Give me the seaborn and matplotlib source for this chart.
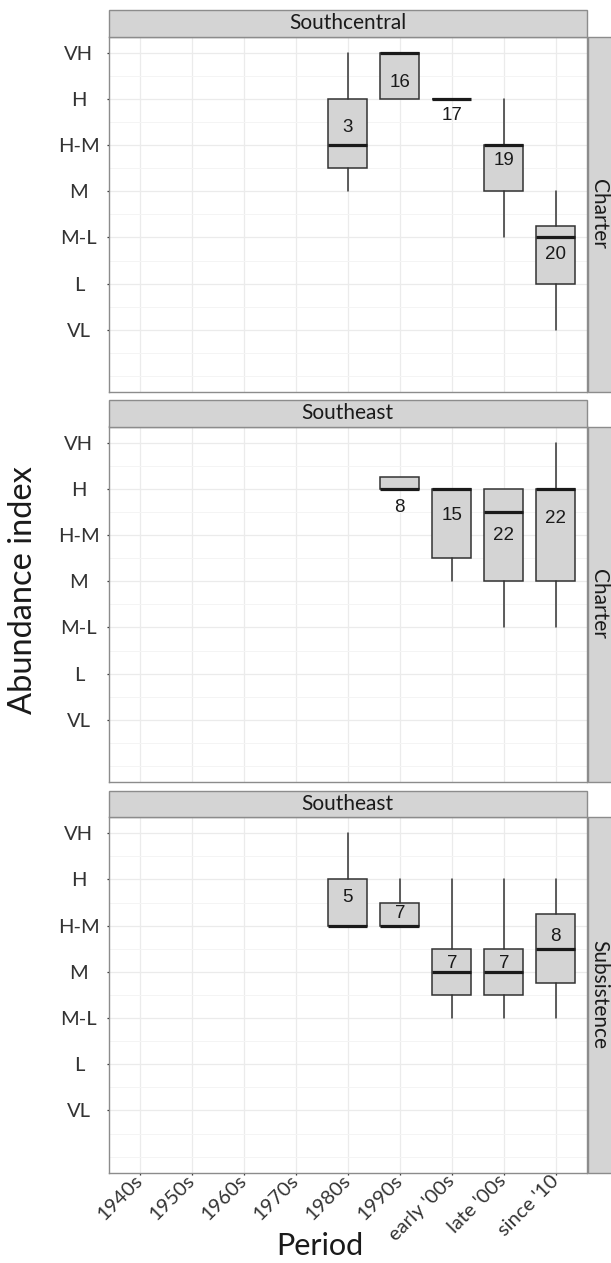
import numpy as np
import pandas as pd
import matplotlib
matplotlib.use("Agg")
import matplotlib.pyplot as plt
from matplotlib.patches import Rectangle
import seaborn as sns

# ---------------- data ----------------
periods = ["1940s", "1950s", "1960s", "1970s", "1980s", "1990s",
           "early '00s", "late '00s", "since '10"]
level_labels = ["VL", "L", "M-L", "M", "H-M", "H", "VH"]
level_values = [1, 2, 3, 4, 5, 6, 7]

panel_titles = ["Southcentral", "Southeast", "Southeast"]
panel_rows = ["Charter", "Charter", "Subsistence"]

# Panel 1: Southcentral / Charter
p1_period = ["1980s", "1990s", "early '00s", "late '00s", "since '10"]
p1_whislo = [4, 6, 6, 3, 1]
p1_q1 = [4.5, 6, 6, 4, 2]
p1_med = [5, 7, 6, 5, 3]
p1_q3 = [6, 7, 6, 5, 3.25]
p1_whishi = [7, 7, 6, 6, 4]
p1_n = [3, 16, 17, 19, 20]
p1_label_y = [5.39, 6.35, 5.63, 4.66, 2.64]

# Panel 2: Southeast / Charter
p2_period = ["1990s", "early '00s", "late '00s", "since '10"]
p2_whislo = [6, 4, 3, 3]
p2_q1 = [6, 4.5, 4, 4]
p2_med = [6, 6, 5.5, 6]
p2_q3 = [6.25, 6, 6, 6]
p2_whishi = [6.25, 6, 6, 7]
p2_n = [8, 15, 22, 22]
p2_label_y = [5.59, 5.42, 5.0, 5.35]

# Panel 3: Southeast / Subsistence
p3_period = ["1980s", "1990s", "early '00s", "late '00s", "since '10"]
p3_whislo = [5, 5, 3, 3, 3]
p3_q1 = [5, 5, 3.5, 3.5, 3.75]
p3_med = [5, 5, 4, 4, 4.5]
p3_q3 = [6, 5.5, 4.5, 4.5, 5.25]
p3_whishi = [7, 6, 6, 6, 6]
p3_n = [5, 7, 7, 7, 8]
p3_label_y = [5.61, 5.26, 4.18, 4.18, 4.77]

panels = [
    (p1_period, p1_whislo, p1_q1, p1_med, p1_q3, p1_whishi, p1_n, p1_label_y),
    (p2_period, p2_whislo, p2_q1, p2_med, p2_q3, p2_whishi, p2_n, p2_label_y),
    (p3_period, p3_whislo, p3_q1, p3_med, p3_q3, p3_whishi, p3_n, p3_label_y),
]

# ---------------- style ----------------
sns.set_theme(style="whitegrid")
plt.rcParams["font.family"] = ["Lato", "DejaVu Sans"]

W, H = 611, 1263
fig = plt.figure(figsize=(W / 100, H / 100), dpi=100)

def fx(px):
    return px / W

def fy(py):
    return 1 - py / H

left_px, right_px = 108.5, 587.0
panel_tops = [36.5, 426.5, 817.1]
panel_h = 355.7
strip_h = 26.5
rstrip_x0 = 588.0

box_fill = "#D4D4D4"
edge = "#333333"
border = "#8C8C8C"

for i, (per, wlo, q1, med, q3, whi, n, ly) in enumerate(panels):
    top = panel_tops[i]
    ax = fig.add_axes([fx(left_px), fy(top + panel_h), fx(right_px - left_px), panel_h / H])
    ax.set_facecolor("white")
    ax.set_xlim(-0.6, len(periods) - 1 + 0.6)
    ax.set_ylim(-0.35, 7.35)

    stats = []
    for j in range(len(per)):
        stats.append(dict(med=med[j], q1=q1[j], q3=q3[j], whislo=wlo[j], whishi=whi[j],
                          fliers=[], label=per[j]))
    pos = [periods.index(p) for p in per]
    ax.bxp(stats, positions=pos, widths=0.75, patch_artist=True, showcaps=False,
           showfliers=False, manage_ticks=False,
           boxprops=dict(facecolor=box_fill, edgecolor=edge, linewidth=1.1),
           medianprops=dict(color="#1A1A1A", linewidth=2.3, solid_capstyle="butt"),
           whiskerprops=dict(color=edge, linewidth=1.1))
    for p, yv, nn in zip(pos, ly, n):
        ax.text(p, yv, str(nn), ha="center", va="center", fontsize=13.5,
                family=["Liberation Sans", "DejaVu Sans"], color="#1A1A1A", zorder=5)

    # axes / grid
    ax.set_xticks(range(len(periods)))
    ax.set_yticks(level_values)
    ax.set_yticklabels(level_labels)
    ax.set_yticks([0, 0.5, 1.5, 2.5, 3.5, 4.5, 5.5, 6.5], minor=True)
    ax.grid(which="major", color="#EBEBEB", linewidth=0.9)
    ax.grid(which="minor", axis="y", color="#F4F4F4", linewidth=0.7)
    ax.grid(which="major", axis="x", color="#EBEBEB", linewidth=0.9)
    ax.set_axisbelow(True)
    for s in ax.spines.values():
        s.set_color(border)
        s.set_linewidth(1.0)
        s.set_visible(True)
    ax.tick_params(axis="y", which="major", left=True, length=1.7, width=0.9, color=edge,
                   pad=19.6, labelsize=14.5, labelcolor="#333333")
    ax.tick_params(axis="y", which="minor", left=False, length=0)
    for lab in ax.get_yticklabels():
        lab.set_horizontalalignment("center")
    if i == 2:
        ax.set_xticklabels(periods)
        ax.tick_params(axis="x", bottom=True, length=1.7, width=0.9, color=edge, pad=2,
                       labelsize=14.5, labelcolor="#333333")
        for lab in ax.get_xticklabels():
            lab.set_rotation(45)
            lab.set_rotation_mode("anchor")
            lab.set_horizontalalignment("right")
            lab.set_verticalalignment("center")
    else:
        ax.set_xticklabels([])
        ax.tick_params(axis="x", bottom=False, length=0)
    ax.set_xlabel("")
    ax.set_ylabel("")

    # top strip
    fig.patches.append(Rectangle((fx(left_px), fy(top)), fx(right_px - left_px), strip_h / H,
                                 transform=fig.transFigure, facecolor=box_fill,
                                 edgecolor=border, linewidth=1.0, zorder=0))
    fig.text(fx((left_px + right_px) / 2), fy(top - strip_h / 2), panel_titles[i],
             ha="center", va="center", fontsize=15, color="#1A1A1A")
    # right strip
    fig.patches.append(Rectangle((fx(rstrip_x0), fy(top + panel_h)), fx(W + 5 - rstrip_x0), panel_h / H,
                                 transform=fig.transFigure, facecolor=box_fill,
                                 edgecolor=border, linewidth=1.0, zorder=0))
    fig.text(fx(599.5), fy(top + panel_h / 2), panel_rows[i], rotation=-90,
             ha="center", va="center", fontsize=15, color="#1A1A1A")

fig.text(fx(23), fy(590), "Abundance index", rotation=90, ha="center", va="center",
         fontsize=23.5, color="#1A1A1A")
fig.text(fx(320), fy(1255), "Period", ha="center", va="baseline",
         fontsize=22, color="#1A1A1A")

fig.savefig("out.png", dpi=100)
